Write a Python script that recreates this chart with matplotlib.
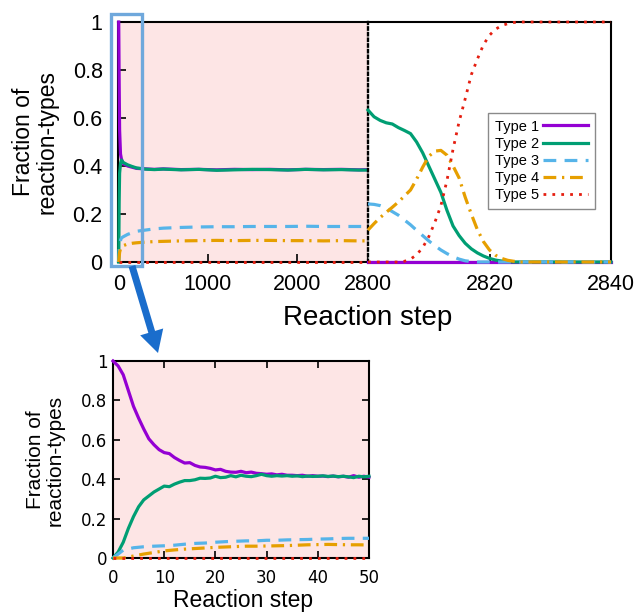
import matplotlib
matplotlib.use("Agg")
import matplotlib.pyplot as plt
from matplotlib import patches
from matplotlib.ticker import FixedLocator, FixedFormatter

# ---------------- data ----------------
labels = ["Type 1", "Type 2", "Type 3", "Type 4", "Type 5"]

# main panel, long phase (steps 0 .. 2800)
long_steps = [0, 5, 10, 20, 30, 50, 100, 150, 200, 300, 400, 500, 700, 900,
              1100, 1300, 1500, 1700, 1900, 2100, 2300, 2500, 2700, 2800]
long_t1 = [1.0, 0.75, 0.55, 0.45, 0.43, 0.41, 0.40, 0.395, 0.39, 0.388, 0.386, 0.388,
           0.385, 0.386, 0.384, 0.386, 0.385, 0.386, 0.384, 0.386, 0.385, 0.386, 0.384, 0.385]
long_t2 = [0.0, 0.25, 0.37, 0.41, 0.425, 0.415, 0.405, 0.398, 0.392, 0.387, 0.385, 0.387,
           0.384, 0.386, 0.382, 0.384, 0.386, 0.385, 0.383, 0.386, 0.384, 0.385, 0.383, 0.383]
long_t3 = [0.0, 0.05, 0.07, 0.09, 0.10, 0.105, 0.115, 0.122, 0.128, 0.133, 0.138, 0.141,
           0.144, 0.146, 0.147, 0.147, 0.148, 0.148, 0.148, 0.149, 0.148, 0.148, 0.148, 0.148]
long_t4 = [0.0, 0.02, 0.04, 0.055, 0.062, 0.068, 0.075, 0.078, 0.080, 0.083, 0.085, 0.086,
           0.088, 0.089, 0.090, 0.089, 0.090, 0.090, 0.089, 0.089, 0.088, 0.089, 0.088, 0.088]
long_t5 = [0.0] * len(long_steps)

# main panel, final phase (steps 2800 .. 2840)
end_steps = list(range(2800, 2841))
end_t1 = [0.0] * len(end_steps)
end_t2 = [0.633, 0.605, 0.59, 0.58, 0.575, 0.56, 0.548, 0.535, 0.50, 0.455, 0.40, 0.345,
          0.29, 0.215, 0.15, 0.11, 0.078, 0.055, 0.038, 0.025, 0.015, 0.008, 0.004, 0.002] \
    + [0.0] * 17
end_t3 = [0.242, 0.24, 0.235, 0.225, 0.21, 0.195, 0.175, 0.155, 0.132, 0.11, 0.088, 0.068,
          0.05, 0.035, 0.022, 0.012, 0.005, 0.002] + [0.0] * 23
end_t4 = [0.133, 0.16, 0.185, 0.207, 0.228, 0.25, 0.275, 0.30, 0.345, 0.395, 0.44, 0.462,
          0.465, 0.445, 0.40, 0.35, 0.27, 0.20, 0.135, 0.085, 0.05, 0.028, 0.015, 0.007,
          0.003] + [0.0] * 16
end_t5 = [0.0, 0.0, 0.0, 0.0, 0.0, 0.0, 0.003, 0.012, 0.03, 0.06, 0.105, 0.165, 0.235,
          0.34, 0.47, 0.585, 0.68, 0.78, 0.845, 0.905, 0.945, 0.97, 0.985, 0.993, 0.998] \
    + [1.0] * 16

# inset (steps 0 .. 50)
ins_steps = list(range(51))
ins_t1 = [1.0, 0.975, 0.93, 0.85, 0.77, 0.71, 0.655, 0.605, 0.575, 0.55, 0.535, 0.53,
          0.51, 0.495, 0.482, 0.484, 0.47, 0.462, 0.46, 0.455, 0.447, 0.45, 0.44, 0.436,
          0.435, 0.44, 0.433, 0.436, 0.43, 0.428, 0.425, 0.427, 0.422, 0.425, 0.42, 0.42,
          0.418, 0.42, 0.415, 0.418, 0.415, 0.416, 0.413, 0.416, 0.412, 0.415, 0.41,
          0.418, 0.41, 0.415, 0.41]
ins_t2 = [0.0, 0.03, 0.08, 0.15, 0.21, 0.26, 0.295, 0.315, 0.335, 0.35, 0.365, 0.362,
          0.375, 0.385, 0.393, 0.393, 0.397, 0.405, 0.404, 0.406, 0.415, 0.408, 0.41,
          0.418, 0.412, 0.42, 0.415, 0.413, 0.418, 0.425, 0.418, 0.415, 0.418, 0.416,
          0.418, 0.415, 0.417, 0.413, 0.416, 0.414, 0.415, 0.417, 0.414, 0.416, 0.413,
          0.415, 0.412, 0.408, 0.415, 0.412, 0.415]
ins_steps2 = list(range(0, 51, 2))
ins_t3 = [0.0, 0.04, 0.052, 0.057, 0.06, 0.062, 0.065, 0.07, 0.074, 0.076, 0.08, 0.083,
          0.085, 0.087, 0.087, 0.09, 0.09, 0.092, 0.093, 0.094, 0.096, 0.097, 0.099, 0.1,
          0.1, 0.1]
ins_t4 = [0.0, 0.0, 0.01, 0.02, 0.028, 0.036, 0.041, 0.045, 0.048, 0.051, 0.054, 0.056,
          0.058, 0.06, 0.06, 0.061, 0.062, 0.063, 0.065, 0.067, 0.068, 0.069, 0.068, 0.067,
          0.067, 0.066]
ins_t5 = [0.0] * len(ins_steps2)

y_ticks = [0, 0.2, 0.4, 0.6, 0.8, 1.0]
y_ticklabels = ["0", "0.2", "0.4", "0.6", "0.8", "1"]
long_xticks = [0, 1000, 2000, 2800]
end_xticks = [2820, 2840]
ins_xticks = [0, 10, 20, 30, 40, 50]

# ---------------- style ----------------
colors = ["#9400d3", "#009e73", "#56b4e9", "#e69f00", "#e51e10"]
styles = ["-", "-", (0, (4, 2.6)), (0, (4, 1.8, 0.7, 1.8)), (0, (1.0, 2.2))]
widths = [2.3, 2.3, 2.3, 2.3, 2.0]
pink = "#fde5e5"
main_font = "Liberation Sans"

plt.rcParams["font.family"] = [main_font, "DejaVu Sans"]

W, H = 640, 612
fig = plt.figure(figsize=(W / 100, H / 100), dpi=100)


def fbox(x0, y0, x1, y1):
    return [x0 / W, 1 - y1 / H, (x1 - x0) / W, (y1 - y0) / H]


ax_l = fig.add_axes(fbox(118, 22, 368, 262))
ax_r = fig.add_axes(fbox(368, 22, 611, 262))
ax_i = fig.add_axes(fbox(113, 361, 369, 558))

# long phase
ax_l.set_facecolor(pink)
for ys, c, ls, lw in zip([long_t1, long_t2, long_t3, long_t4, long_t5], colors, styles, widths):
    ax_l.plot(long_steps, ys, color=c, ls=ls, lw=lw, zorder=3, clip_on=False)
ax_l.set_xlim(-8, 2800)
ax_l.set_ylim(0, 1)
ax_l.spines["right"].set_visible(False)
for s in ["left", "top", "bottom"]:
    ax_l.spines[s].set_linewidth(1.5)
ax_l.xaxis.set_major_locator(FixedLocator(long_xticks))
ax_l.xaxis.set_major_formatter(FixedFormatter([str(v) for v in long_xticks]))
ax_l.yaxis.set_major_locator(FixedLocator(y_ticks))
ax_l.yaxis.set_major_formatter(FixedFormatter(y_ticklabels))
ax_l.tick_params(direction="in", length=6, width=1.2, labelsize=15.5, top=False, right=False)
ax_l.tick_params(axis="x", pad=9)
ax_l.tick_params(axis="y", pad=11)

# final phase
lines = []
for ys, c, ls, lw, lab in zip([end_t1, end_t2, end_t3, end_t4, end_t5], colors, styles,
                              widths, labels):
    ln, = ax_r.plot(end_steps, ys, color=c, ls=ls, lw=lw, zorder=3, clip_on=False, label=lab)
    lines.append(ln)
ax_r.set_xlim(2800, 2840)
ax_r.set_ylim(0, 1)
for s in ["right", "top", "bottom"]:
    ax_r.spines[s].set_linewidth(1.5)
ax_r.spines["left"].set_linestyle((0, (1, 1.4)))
ax_r.spines["left"].set_linewidth(1.7)
ax_r.xaxis.set_major_locator(FixedLocator(end_xticks))
ax_r.xaxis.set_major_formatter(FixedFormatter([str(v) for v in end_xticks]))
ax_r.set_yticks([])
ax_r.tick_params(axis="x", direction="in", length=6, width=1.2, labelsize=15.5, pad=9)
leg = ax_r.legend(handles=lines, loc="upper left", bbox_to_anchor=(0.494, 0.621),
                  markerfirst=False, fancybox=False, edgecolor="#8a8a8a", framealpha=1,
                  fontsize=10.5, handlelength=3.1, handletextpad=0.3, labelspacing=0.22,
                  borderpad=0.45, borderaxespad=0)
leg.get_frame().set_linewidth(1.0)

fig.text(368 / W, 1 - 325 / H, "Reaction step", ha="center", va="baseline", fontsize=20)
fig.text(35 / W, 1 - 142 / H, "Fraction of\nreaction-types", ha="center", va="center",
         rotation=90, fontsize=16.5, linespacing=1.05, multialignment="center")

# inset
ax_i.set_facecolor(pink)
ax_i.plot(ins_steps, ins_t1, color=colors[0], ls=styles[0], lw=widths[0], zorder=3, clip_on=False)
ax_i.plot(ins_steps, ins_t2, color=colors[1], ls=styles[1], lw=widths[1], zorder=3, clip_on=False)
ax_i.plot(ins_steps2, ins_t3, color=colors[2], ls=styles[2], lw=widths[2], zorder=3, clip_on=False)
ax_i.plot(ins_steps2, ins_t4, color=colors[3], ls=styles[3], lw=widths[3], zorder=3, clip_on=False)
ax_i.plot(ins_steps2, ins_t5, color=colors[4], ls=styles[4], lw=widths[4], zorder=4, clip_on=False)
ax_i.set_xlim(0, 50)
ax_i.set_ylim(0, 1)
for s in ax_i.spines.values():
    s.set_linewidth(1.5)
ax_i.xaxis.set_major_locator(FixedLocator(ins_xticks))
ax_i.xaxis.set_major_formatter(FixedFormatter([str(v) for v in ins_xticks]))
ax_i.yaxis.set_major_locator(FixedLocator(y_ticks))
ax_i.yaxis.set_major_formatter(FixedFormatter(y_ticklabels))
ax_i.tick_params(direction="in", length=5, width=1.2, top=True, right=True)
ax_i.tick_params(axis="x", labelsize=12, pad=8)
ax_i.tick_params(axis="y", labelsize=12, pad=4)
for t in ax_i.get_xticklabels() + ax_i.get_yticklabels():
    t.set_fontfamily("DejaVu Sans")

fig.text(243 / W, 1 - 607 / H, "Reaction step", ha="center", va="baseline", fontsize=16.5)
fig.text(45 / W, 1 - 460 / H, "Fraction of\nreaction-types", ha="center", va="center",
         rotation=90, fontsize=15, linespacing=1.05, multialignment="center")

# highlight box + arrow
fig.add_artist(patches.Rectangle((111 / W, 1 - 266 / H), 31 / W, 252 / H,
                                 transform=fig.transFigure, fill=False,
                                 edgecolor="#6fa8dc", linewidth=2.4, zorder=10))
fig.add_artist(patches.FancyArrow(132 / 100, (H - 266) / 100, (158 - 132) / 100,
                                  -(353 - 266) / 100, width=0.07, head_width=0.24,
                                  head_length=0.22, length_includes_head=True,
                                  transform=fig.dpi_scale_trans, color="#1a6dcc",
                                  linewidth=0, zorder=10))

fig.savefig("out.png", dpi=100)
